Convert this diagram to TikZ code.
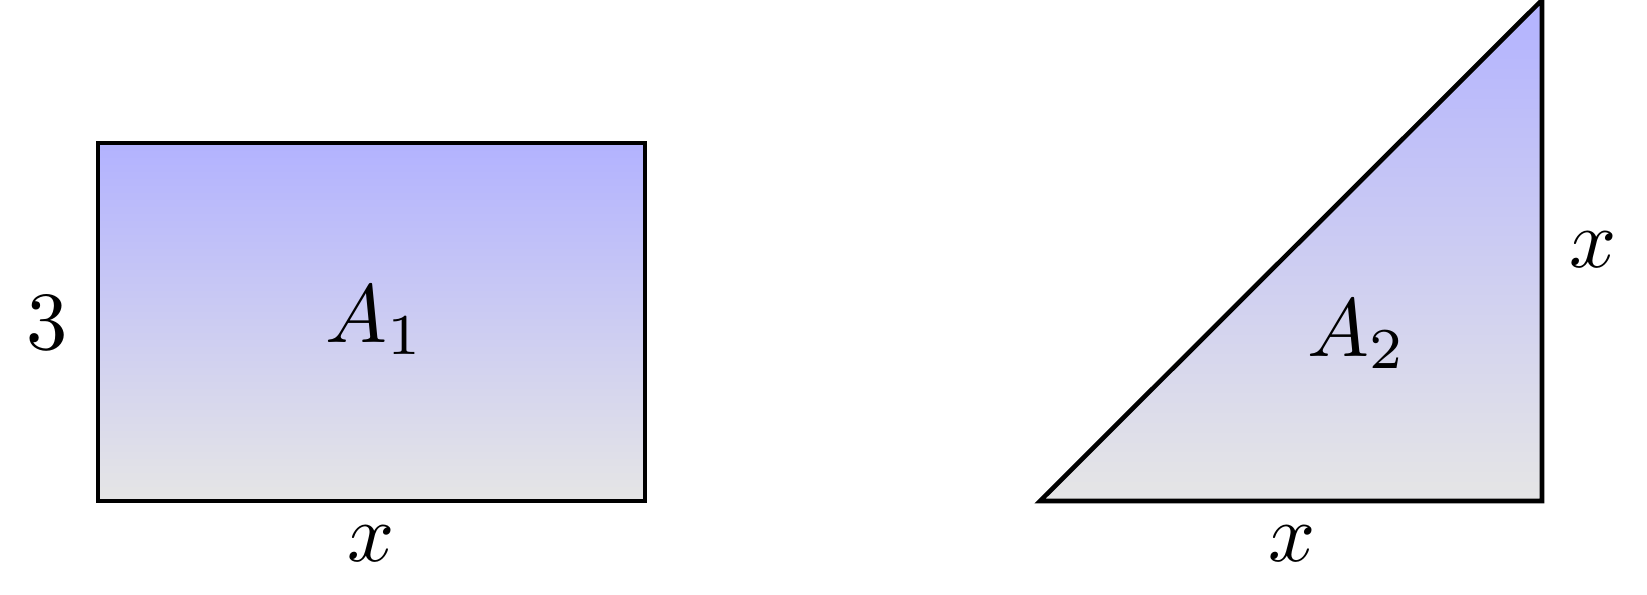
\documentclass[tikz,border=0pt]{standalone}
\usepackage{amsmath}
\usetikzlibrary{positioning}

\tikzset{
    area/.style={draw=black, line width=1.3pt, top color=blue!30, bottom color=gray!20},
    lbl/.style={scale=2.35}
}

\begin{document}
\begin{tikzpicture}
    \useasboundingbox (0,0) rectangle (16.47,5.94);
    % Rectangle with height 3 and width x
    \coordinate (r1) at (0.98,0.93);
    \coordinate (r2) at (6.45,4.51);
    \draw[area] (r1) rectangle (r2);
    \node[lbl] (A1) at (3.75,2.74) {$A_1$};
    \node[lbl] (h1) at (0.47,2.71) {$3$};
    \node[lbl] (b1) at (3.71,0.50) {$x$};

    % Right triangle with legs x and x
    \coordinate (t1) at (10.40,0.93);
    \coordinate (t2) at (15.42,0.93);
    \coordinate (t3) at (15.42,5.94);
    \draw[area, line join=miter] (t1) -- (t2) -- (t3) -- cycle;
    \node[lbl] (A2) at (13.57,2.60) {$A_2$};
    \node[lbl] (h2) at (15.93,3.44) {$x$};
    \node[lbl] (b2) at (12.92,0.50) {$x$};
\end{tikzpicture}
\end{document}
